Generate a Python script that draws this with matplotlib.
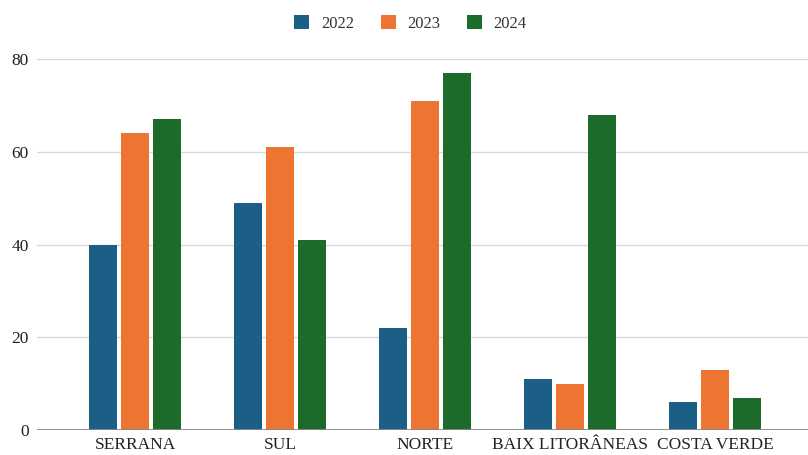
import matplotlib.pyplot as plt
import numpy as np

plt.rcParams["font.family"] = ["Liberation Serif", "DejaVu Serif"]

categories = ["SERRANA", "SUL", "NORTE", "BAIX LITORÂNEAS", "COSTA VERDE"]
years = ["2022", "2023", "2024"]
values_2022 = [40, 49, 22, 11, 6]
values_2023 = [64, 61, 71, 10, 13]
values_2024 = [67, 41, 77, 68, 7]
colors = ["#1b5e86", "#ee7432", "#1c6b2a"]

fig = plt.figure(figsize=(8.08, 4.55), dpi=100)
ax = fig.add_axes([0.0458, 0.0549, 0.9542, 0.8154])

x = np.arange(len(categories))
width = 0.195
step = 0.22
for i, (vals, year) in enumerate(zip([values_2022, values_2023, values_2024], years)):
    ax.bar(x + (i - 1) * step, vals, width=width, color=colors[i], label=year, zorder=3)

ax.set_xlim(-0.676, 4.64)
ax.set_ylim(0, 80)
ax.set_yticks([0, 20, 40, 60, 80])
ax.set_xticks(x, categories)
ax.tick_params(axis="both", length=0, labelsize=12.5, colors="#222222")
ax.tick_params(axis="x", pad=5)
ax.tick_params(axis="y", pad=6)
ax.grid(axis="y", color="#d9d9d9", linewidth=1.0, zorder=0)
for spine in ax.spines.values():
    spine.set_visible(False)
ax.axhline(0, color="#888888", linewidth=1.3, zorder=4)

fig.legend(loc="upper center", bbox_to_anchor=(0.508, 1.0), ncol=3, frameon=False,
           fontsize=12, handlelength=0.9, handleheight=0.9, columnspacing=1.6,
           handletextpad=0.7, labelcolor="#333333")

fig.savefig("out.png", dpi=100)
